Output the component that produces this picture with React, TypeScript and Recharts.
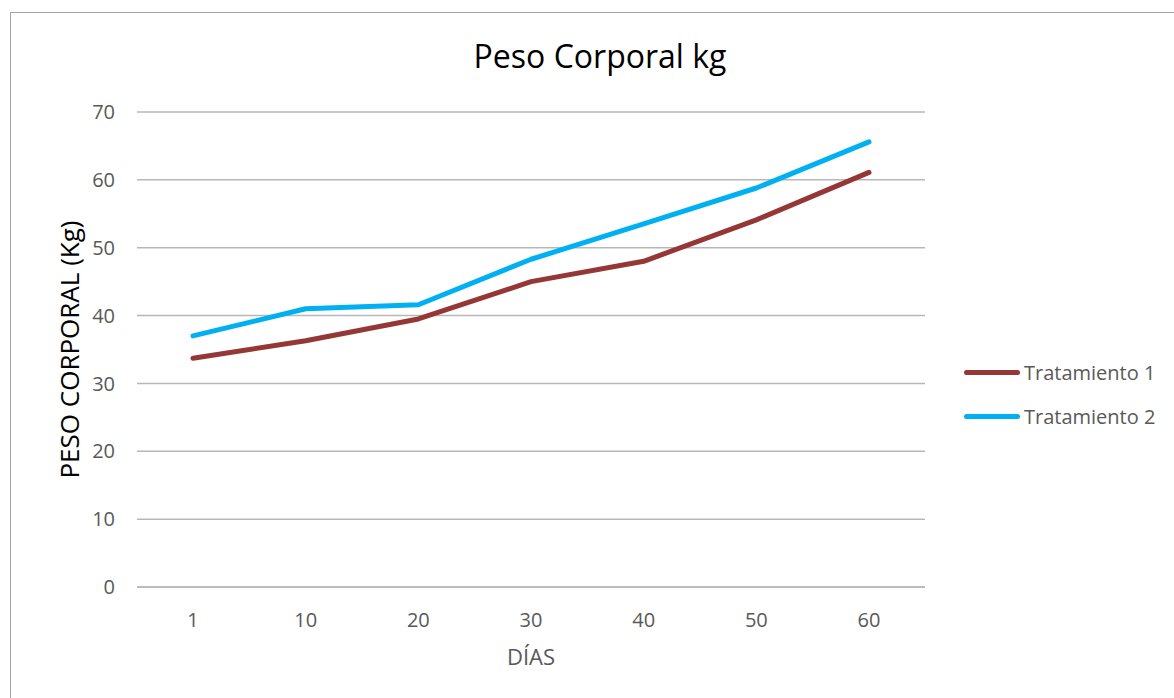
import { LineChart, Line, XAxis, YAxis, CartesianGrid } from 'recharts';

const dias = ['1', '10', '20', '30', '40', '50', '60'];
const tratamiento1 = [33.7, 36.3, 39.5, 45.0, 48.0, 54.1, 61.1];
const tratamiento2 = [37.0, 41.0, 41.6, 48.3, 53.5, 58.8, 65.6];
const yTicks = [0, 10, 20, 30, 40, 50, 60, 70];

const series = [
  { key: 'Tratamiento 1', color: '#953735', values: tratamiento1 },
  { key: 'Tratamiento 2', color: '#00B0F0', values: tratamiento2 },
];

const data = dias.map((dia, i) => {
  const row: any = { dia };
  series.forEach((s) => {
    row[s.key] = s.values[i];
  });
  return row;
});

const FONT = '"Open Sans", sans-serif';

// leyenda a la derecha, como en Excel
const CustomLegend = () => (
  <div style={{ position: 'absolute', left: 964, top: 350, fontFamily: FONT }}>
    {series.map((s) => (
      <div key={s.key} style={{ display: 'flex', alignItems: 'center', height: 44 }}>
        <div style={{ width: 56, height: 5, borderRadius: 3, background: s.color, marginRight: 4 }} />
        <span style={{ fontSize: 20, color: '#595959' }}>{s.key}</span>
      </div>
    ))}
  </div>
);

export default function App() {
  return (
    <div style={{ position: 'absolute', left: 0, top: 0, width: 1174, height: 698, overflow: 'hidden', background: '#fff' }}>
      <div
        style={{
          position: 'absolute',
          left: 10,
          top: 12,
          width: 1300,
          height: 900,
          border: '1.5px solid #a6a6a6',
        }}
      />
      <div
        style={{
          position: 'absolute',
          left: 400,
          top: 40,
          width: 400,
          textAlign: 'center',
          fontFamily: FONT,
          fontSize: 32,
          lineHeight: '32px',
          color: '#000',
        }}
      >
        Peso Corporal kg
      </div>
      <div style={{ position: 'absolute', left: 0, top: 0 }}>
        <LineChart
          width={1174}
          height={698}
          data={data}
          margin={{ top: 112, right: 249, left: 0, bottom: 31 }}
        >
          <CartesianGrid vertical={false} stroke="#b7b7b7" strokeWidth={1.5} />
          <XAxis
            dataKey="dia"
            height={80}
            padding={{ left: 56, right: 56 }}
            axisLine={{ stroke: '#b7b7b7', strokeWidth: 1.5 }}
            tickLine={false}
            tickSize={0}
            tickMargin={26}
            tick={{ fontSize: 20, fill: '#595959', fontFamily: FONT }}
            label={{
              value: 'DÍAS',
              position: 'insideBottom',
              offset: 2,
              fontSize: 22,
              fill: '#595959',
              fontFamily: FONT,
            }}
          />
          <YAxis
            width={137}
            domain={[0, 70]}
            ticks={yTicks}
            axisLine={false}
            tickLine={false}
            tickSize={0}
            tickMargin={22}
            tick={{ fontSize: 20, fill: '#595959', fontFamily: FONT }}
            label={{
              value: 'PESO CORPORAL (Kg)',
              angle: -90,
              position: 'insideLeft',
              offset: 70,
              fontSize: 26,
              fill: '#000',
              fontFamily: FONT,
              style: { textAnchor: 'middle' },
            }}
          />
          {series.map((s) => (
            <Line
              key={s.key}
              type="linear"
              dataKey={s.key}
              stroke={s.color}
              strokeWidth={5}
              strokeLinecap="round"
              strokeLinejoin="round"
              dot={false}
              activeDot={false}
              isAnimationActive={false}
            />
          ))}
        </LineChart>
      </div>
      <CustomLegend />
    </div>
  );
}
